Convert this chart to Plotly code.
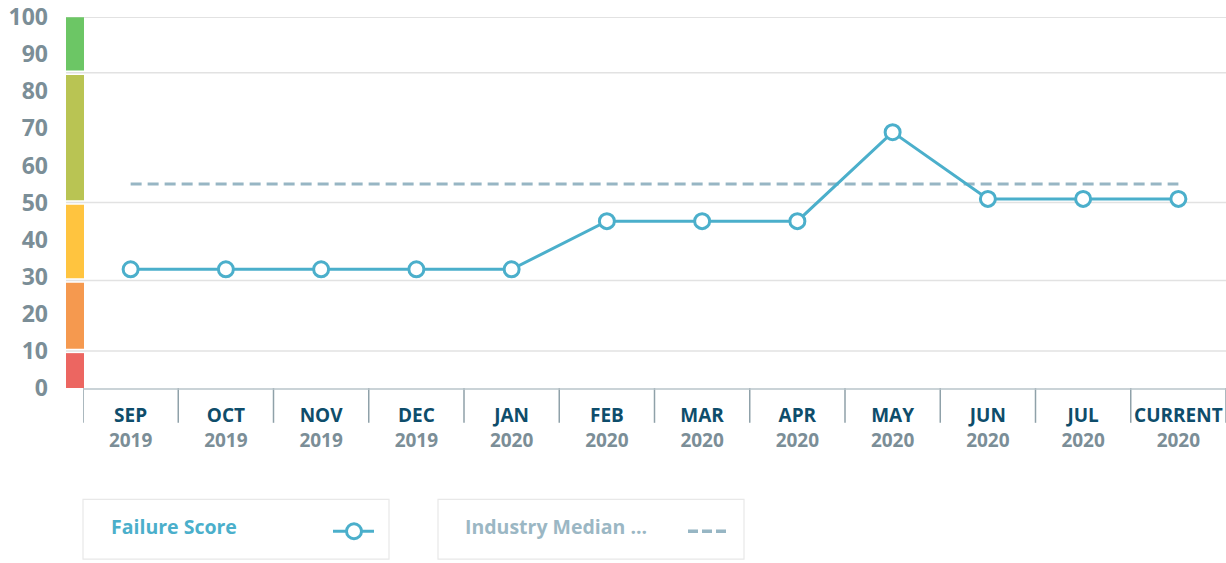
import plotly.graph_objects as go

months = ["SEP", "OCT", "NOV", "DEC", "JAN", "FEB", "MAR", "APR", "MAY", "JUN", "JUL", "CURRENT"]
years = ["2019", "2019", "2019", "2019", "2020", "2020", "2020", "2020", "2020", "2020", "2020", "2020"]
failure_score = [32, 32, 32, 32, 32, 45, 45, 45, 69, 51, 51, 51]
industry_median = [55] * 12

band_bounds = [0, 10, 29, 50, 85, 100]
band_colors = ["#EC6661", "#F5994F", "#FFC43F", "#B9C453", "#6CC665"]
y_ticks = [0, 10, 20, 30, 40, 50, 60, 70, 80, 90, 100]

W, H = 1226, 563
L, R, T, B = 83, 0, 15, 175
PW, PH = W - L - R, H - T - B

def px_x(px):
    return (px - L) / PW

def px_y(py):
    return (H - B - py) / PH

line_col = "#4BAFCB"
med_col = "#97B6C4"

x = list(range(len(months)))
ticktext = [f"<b>{m}</b><br><span style='color:#7B8E97'><b>{y}</b></span>" for m, y in zip(months, years)]

fig = go.Figure()
fig.add_trace(go.Scatter(
    x=x, y=industry_median, mode="lines",
    line=dict(color=med_col, width=3, dash="11px,6px"),
    name="Industry Median", hoverinfo="skip", showlegend=False, cliponaxis=False))
fig.add_trace(go.Scatter(
    x=x, y=failure_score, mode="lines+markers",
    line=dict(color=line_col, width=3),
    marker=dict(size=15, color="white", line=dict(color=line_col, width=3)),
    name="Failure Score", showlegend=False, cliponaxis=False))

shapes = []
# gridlines at band boundaries
for b in band_bounds[1:]:
    shapes.append(dict(type="line", xref="paper", yref="y", x0=px_x(66), x1=1, y0=b, y1=b,
                       line=dict(color="#E2E2E2", width=1.5), layer="below"))
# color bands
for i, c in enumerate(band_colors):
    y0 = band_bounds[i]
    y1 = band_bounds[i + 1]
    shapes.append(dict(type="rect", xref="paper", yref="y", x0=px_x(66), x1=px_x(84),
                       y0=y0 + (0.6 if i > 0 else 0), y1=y1 - (0.6 if i < len(band_colors) - 1 else 0),
                       fillcolor=c, line=dict(width=0), layer="below"))
# category separators
for k in range(len(months) + 1):
    shapes.append(dict(type="line", xref="x", yref="paper", x0=k - 0.5, x1=k - 0.5,
                       y0=0, y1=px_y(423), line=dict(color="#8FA1A9", width=1.5)))
shapes.append(dict(type="line", xref="paper", yref="paper", x0=0, x1=1, y0=px_y(389), y1=px_y(389),
                   line=dict(color="#B9C5CA", width=1.5)))

# legend boxes
shapes.append(dict(type="rect", xref="paper", yref="paper", x0=px_x(83), x1=px_x(389),
                   y0=px_y(560), y1=px_y(500), line=dict(color="#E8E8E8", width=1.2)))
shapes.append(dict(type="rect", xref="paper", yref="paper", x0=px_x(438), x1=px_x(744),
                   y0=px_y(560), y1=px_y(500), line=dict(color="#E8E8E8", width=1.2)))
# legend symbol: line with circle
shapes.append(dict(type="line", xref="paper", yref="paper", x0=px_x(333), x1=px_x(374),
                   y0=px_y(532), y1=px_y(532), line=dict(color=line_col, width=3)))
shapes.append(dict(type="circle", xref="paper", yref="paper", x0=px_x(346.5), x1=px_x(361.5),
                   y0=px_y(539.5), y1=px_y(524.5), fillcolor="white", line=dict(color=line_col, width=3)))
# legend symbol: dashed
for d0 in (688, 702, 716):
    shapes.append(dict(type="line", xref="paper", yref="paper", x0=px_x(d0), x1=px_x(d0 + 10),
                       y0=px_y(532), y1=px_y(532), line=dict(color=med_col, width=3.5)))

annotations = [
    dict(text="<b>Failure Score</b>", xref="paper", yref="paper", x=px_x(109), y=px_y(527),
         xanchor="left", yanchor="middle", showarrow=False,
         font=dict(family="Open Sans", size=19.5, color=line_col)),
    dict(text="<b>Industry Median ...</b>", xref="paper", yref="paper", x=px_x(463), y=px_y(527),
         xanchor="left", yanchor="middle", showarrow=False,
         font=dict(family="Open Sans", size=19.5, color="#9BB7C4")),
]

fig.update_layout(
    width=W, height=H,
    margin=dict(l=L, r=R, t=T, b=B),
    paper_bgcolor="white", plot_bgcolor="white",
    shapes=shapes, annotations=annotations,
    showlegend=False,
    xaxis=dict(range=[-0.5, len(months) - 0.5], tickvals=x, ticktext=ticktext,
               showgrid=False, zeroline=False, showline=False, ticks="",
               ticklabelstandoff=14, ticklabeloverflow="allow",
               tickfont=dict(family="Open Sans", size=19, color="#0E4D6B"),
               fixedrange=True),
    yaxis=dict(range=[0, 100.05], tickvals=y_ticks, showgrid=False, zeroline=False,
               showline=False, ticks="", ticklabelstandoff=34, ticklabeloverflow="allow",
               tickfont=dict(family="Open Sans", size=23, color="#7B8E97", weight="bold"),
               fixedrange=True),
    font=dict(family="Open Sans"),
)

fig.write_html("out.html", config={"displayModeBar": False},
               post_script="document.body.style.margin='0';document.body.style.overflow='hidden';")
